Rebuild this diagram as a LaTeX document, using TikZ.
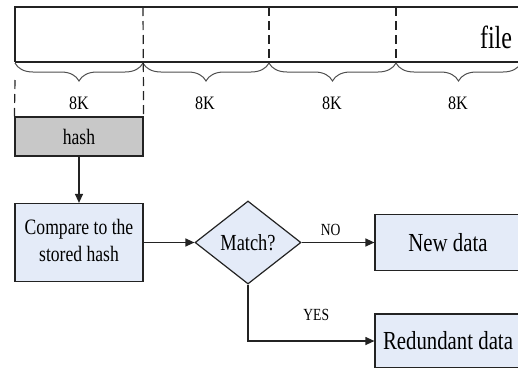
\documentclass[tikz,border=0pt]{standalone}
\usepackage{fontspec}
\setmainfont{Liberation Serif}
\newfontfamily\tms{Liberation Serif}
\usetikzlibrary{shapes.geometric,decorations.pathreplacing,arrows.meta}
\newcommand\nar[2][0.8]{\scalebox{#1}[1]{#2}}
\definecolor{linec}{RGB}{35,35,35}
\definecolor{boxblue}{RGB}{228,235,248}
\definecolor{hashgray}{RGB}{200,200,200}
\begin{document}
\begin{tikzpicture}[x=1pt,y=-1pt,line width=1.2pt,draw=linec,
  flowbox/.style={draw=linec,fill=boxblue,inner sep=0pt,font=\tms\fontsize{22}{28}\selectfont},
  dashline/.style={draw=linec,dash pattern=on 9pt off 5pt},
  arr/.style={draw=linec,-{Triangle[length=9pt,width=8pt]}},
  bracestyle/.style={draw=linec!80,line width=1pt,decorate,decoration={brace,mirror,amplitude=18pt}},
  klabel/.style={font=\tms\fontsize{19}{20}\selectfont},
  smalllabel/.style={font=\tms\fontsize{17}{18}\selectfont,inner sep=2pt}]
\useasboundingbox (0,0) rectangle (518,367);
\clip (0,0) rectangle (518,367);
% file strip
\draw (15,62) -- (15,7) -- (530,7);
\draw (15,62) -- (530,62);
\node[font=\tms\fontsize{32}{34}\selectfont] (file) at (496,37) {\nar[0.75]{file}};
% braces
\draw[bracestyle] (15,63) -- (143,63);
\draw[bracestyle] (143,63) -- (269,63);
\draw[bracestyle] (269,63) -- (396,63);
\draw[bracestyle] (396,63) -- (521,63);
\node[klabel] (k1) at (79,103) {\nar[0.85]{8K}};
\node[klabel] (k2) at (205,103) {\nar[0.85]{8K}};
\node[klabel] (k3) at (332,103) {\nar[0.85]{8K}};
\node[klabel] (k4) at (458,103) {\nar[0.85]{8K}};
% flow nodes
\node[flowbox,fill=hashgray,minimum width=128pt,minimum height=39pt] (hash) at (79,136.5) {\nar{hash}};
\node[flowbox,minimum width=128pt,minimum height=78pt] (compare) at (79,242.5)
  {\nar{\begin{tabular}{@{}c@{}}Compare to the\\[-1pt]stored hash\end{tabular}}};
\node[flowbox,diamond,minimum width=106pt,minimum height=83pt,font=\tms\fontsize{23}{24}\selectfont] (match) at (248,242.5) {\nar{Match?}};
\node[flowbox,minimum width=146pt,minimum height=56pt,font=\tms\fontsize{26}{28}\selectfont] (new) at (448,242.5) {\nar{New data}};
\node[flowbox,minimum width=146pt,minimum height=54pt,font=\tms\fontsize{26}{28}\selectfont] (red) at (448,341) {\nar{Redundant data}};
% dashed lines
\draw[dashline] (143,7) -- (hash.north east);
\draw[dashline] (269,7) -- (269,62);
\draw[dashline] (396,7) -- (396,62);
\draw[dashline] (15,80) -- (hash.north west);
% connectors
\draw[arr] (hash) -- (compare);
\draw[arr] (compare) -- (match);
\draw[arr] (match) -- node[smalllabel,above=4pt,pos=0.4] (no) {\nar{NO}} (new);
\draw[arr] (match.south) |- node[smalllabel,pos=0.77,above=18pt] (yes) {\nar{YES}} (red.west);
\end{tikzpicture}
\end{document}
